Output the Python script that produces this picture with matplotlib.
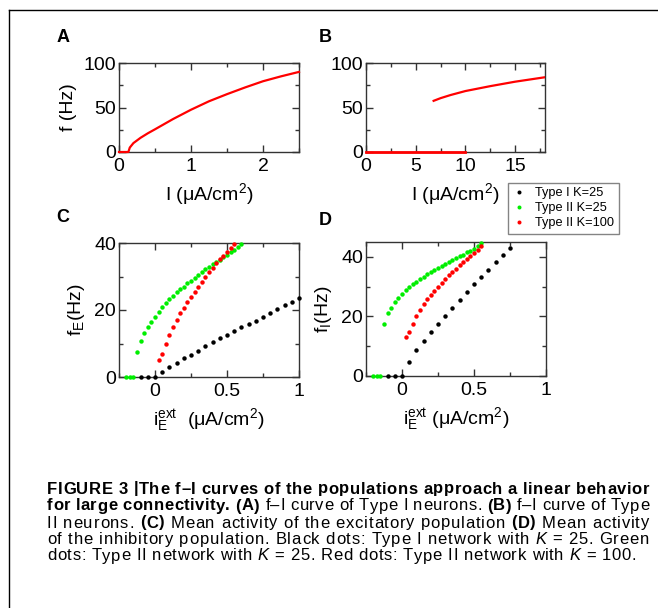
import matplotlib
matplotlib.use("Agg")
import matplotlib.pyplot as plt
from matplotlib.lines import Line2D

# ---------------- data ----------------
# (A) f-I curve, Type I neuron
I_typeI = [0.0, 0.13, 0.15, 0.2, 0.25, 0.3, 0.4, 0.5, 0.75, 1.0, 1.25, 1.5, 1.75, 2.0, 2.25, 2.5]
f_typeI = [0.0, 0.0, 5.0, 10.0, 13.0, 16.0, 21.0, 25.5, 37.0, 47.5, 57.0, 65.0, 72.5, 79.5, 85.0, 90.0]

# (B) f-I curve, Type II neuron (quiescent branch and firing branch)
I_typeII_rest = [0.0, 10.0]
f_typeII_rest = [0.0, 0.0]
I_typeII_fire = [6.8, 7.5, 8.5, 10.0, 12.5, 15.0, 18.0]
f_typeII_fire = [57.5, 60.5, 64.0, 68.5, 74.0, 79.0, 84.0]

# (C) excitatory population rate vs external drive
iE_black = [-0.1, -0.05, 0.0, 0.05, 0.1, 0.15, 0.2, 0.25, 0.3, 0.35, 0.4, 0.45, 0.5,
            0.55, 0.6, 0.65, 0.7, 0.75, 0.8, 0.85, 0.9, 0.95, 1.0]
fE_black = [0.0, 0.0, 0.0, 1.5, 3.0, 4.3, 5.7, 6.7, 7.9, 9.2, 10.3, 11.5, 12.6,
            13.7, 14.8, 15.8, 16.8, 18.0, 19.1, 20.2, 21.4, 22.4, 23.6]

iE_green = [-0.2, -0.175, -0.15, -0.125, -0.1, -0.075, -0.05, -0.025, 0.0, 0.025, 0.05,
            0.075, 0.1, 0.125, 0.15, 0.175, 0.2, 0.225, 0.25, 0.275, 0.3, 0.325, 0.35,
            0.375, 0.4, 0.425, 0.45, 0.475, 0.5, 0.525, 0.55, 0.575, 0.6]
fE_green = [0.0, 0.0, 0.0, 7.5, 10.8, 13.1, 14.8, 16.5, 18.0, 19.5, 20.8,
            22.0, 23.3, 24.3, 25.3, 26.2, 27.0, 28.0, 28.8, 29.6, 30.5, 31.3, 32.1,
            32.8, 33.6, 34.3, 35.0, 35.7, 36.5, 37.2, 37.9, 38.7, 39.6]

iE_red = [0.025, 0.05, 0.075, 0.1, 0.125, 0.15, 0.175, 0.2, 0.225, 0.25, 0.275,
          0.3, 0.325, 0.35, 0.375, 0.4, 0.425, 0.45, 0.475, 0.5, 0.525, 0.55]
fE_red = [5.0, 7.0, 10.0, 12.5, 15.0, 17.0, 19.0, 20.6, 22.3, 24.0, 25.5,
          27.0, 28.5, 30.0, 31.3, 32.6, 33.9, 35.1, 36.1, 37.3, 38.5, 39.8]

# (D) inhibitory population rate vs external drive
iI_black = [-0.1, -0.05, 0.0, 0.05, 0.1, 0.15, 0.2, 0.25, 0.3, 0.35, 0.4, 0.45, 0.5,
            0.55, 0.6, 0.65, 0.7, 0.75]
fI_black = [0.0, 0.0, 0.0, 4.8, 8.7, 11.9, 14.8, 17.6, 20.3, 23.0, 25.6, 28.2, 30.8,
            33.3, 35.7, 38.2, 40.6, 43.1]

iI_green = [-0.2, -0.175, -0.15, -0.125, -0.1, -0.075, -0.05, -0.025, 0.0, 0.025, 0.05,
            0.075, 0.1, 0.125, 0.15, 0.175, 0.2, 0.225, 0.25, 0.275, 0.3, 0.325, 0.35,
            0.375, 0.4, 0.425, 0.45, 0.475, 0.5, 0.525, 0.55]
fI_green = [0.0, 0.0, 0.0, 17.6, 21.0, 22.9, 24.7, 26.2, 27.5, 28.8, 29.8,
            30.8, 31.7, 32.6, 33.4, 34.2, 34.9, 35.6, 36.3, 37.0, 37.6, 38.3, 39.0,
            39.6, 40.2, 40.8, 41.5, 42.1, 42.8, 43.6, 44.5]

iI_red = [0.025, 0.05, 0.075, 0.1, 0.125, 0.15, 0.175, 0.2, 0.225, 0.25, 0.275,
          0.3, 0.325, 0.35, 0.375, 0.4, 0.425, 0.45, 0.475, 0.5, 0.525, 0.55]
fI_red = [13.0, 14.7, 17.6, 20.2, 22.3, 24.1, 25.7, 27.2, 28.6, 30.0, 31.3,
          32.6, 33.8, 35.0, 36.1, 37.2, 38.2, 39.2, 40.2, 41.2, 42.2, 43.6]

legend_labels = ["Type I K=25", "Type II K=25", "Type II K=100"]

# ---------------- style ----------------
plt.rcParams["font.family"] = ["Liberation Sans", "DejaVu Sans"]
plt.rcParams["mathtext.fontset"] = "custom"
plt.rcParams["mathtext.rm"] = "Liberation Sans"
plt.rcParams["mathtext.it"] = "Liberation Sans:italic"
plt.rcParams["mathtext.bf"] = "Liberation Sans:bold"

W, H = 658, 608
fig = plt.figure(figsize=(W / 100, H / 100), dpi=100)
fig.patch.set_facecolor("white")

TICK_FS = 14
LABEL_FS = 14
RED, GREEN, BLACK = "#ff0000", "#00ee00", "#000000"


def px_axes(left, top, right, bottom):
    return fig.add_axes([left / W, 1 - bottom / H, (right - left) / W, (bottom - top) / H])


def style_axes(ax, xmaj, xmin, ymaj, ymin):
    ax.set_xticks(xmaj)
    ax.set_xticks(xmin, minor=True)
    ax.set_yticks(ymaj)
    ax.set_yticks(ymin, minor=True)
    ax.tick_params(which="both", direction="in", top=True, right=True,
                   colors="#333333", labelcolor="black", labelsize=TICK_FS, width=1.0)
    ax.tick_params(which="major", length=5)
    ax.tick_params(which="minor", length=3)
    ax.tick_params(axis="x", which="major", pad=4.5)
    ax.tick_params(axis="y", which="major", pad=2)
    ax.set_xticklabels(["%g" % v for v in xmaj])
    ax.set_yticklabels(["%g" % v for v in ymaj])
    for s in ax.spines.values():
        s.set_color("#333333")
        s.set_linewidth(1.0)


# ---- A ----
axA = px_axes(119, 63, 299, 152)
axA.plot(I_typeI, f_typeI, color=RED, lw=1.6, clip_on=False, zorder=5)
axA.set_xlim(0, 2.5)
axA.set_ylim(0, 100)
style_axes(axA, [0, 1, 2], [0.5, 1.5, 2.5], [0, 50, 100], [25, 75])
axA.set_ylabel("f (Hz)", fontsize=LABEL_FS, labelpad=5)
axA.set_xlabel("I (\u03bcA/cm$^2$)", fontsize=LABEL_FS, labelpad=4)

# ---- B ----
axB = px_axes(366, 63, 545, 152)
axB.plot(I_typeII_rest, f_typeII_rest, color=RED, lw=2.0, clip_on=False, zorder=5)
axB.plot(I_typeII_fire, f_typeII_fire, color=RED, lw=1.6, zorder=5)
axB.set_xlim(0, 18)
axB.set_ylim(0, 100)
style_axes(axB, [0, 5, 10, 15], [2.5, 7.5, 12.5, 17.5], [0, 50, 100], [25, 75])
axB.set_xlabel("I (\u03bcA/cm$^2$)", fontsize=LABEL_FS, labelpad=4)

MS = 3.2
# ---- C ----
axC = px_axes(119, 243, 299, 377)
hC = []
for x, y, c in [(iE_black, fE_black, BLACK), (iE_green, fE_green, GREEN), (iE_red, fE_red, RED)]:
    h, = axC.plot(x, y, "o", color=c, ms=MS, mew=0, clip_on=False, zorder=5)
    hC.append(h)
axC.set_xlim(-0.25, 1)
axC.set_ylim(0, 40)
style_axes(axC, [0, 0.5, 1], [-0.25, 0.25, 0.75], [0, 20, 40], [10, 30])
axC.set_ylabel("f$_\\mathregular{E}$(Hz)", fontsize=LABEL_FS, labelpad=5)
axC.set_xlabel("i$_\\mathregular{E}^\\mathregular{ext}$  (\u03bcA/cm$^2$)",
               fontsize=LABEL_FS, labelpad=4)

# ---- D ----
axD = px_axes(366, 242, 546, 376)
for x, y, c in [(iI_black, fI_black, BLACK), (iI_green, fI_green, GREEN), (iI_red, fI_red, RED)]:
    axD.plot(x, y, "o", color=c, ms=MS, mew=0, clip_on=False, zorder=5)
axD.set_xlim(-0.25, 1)
axD.set_ylim(0, 45)
style_axes(axD, [0, 0.5, 1], [-0.25, 0.25, 0.75], [0, 20, 40], [10, 30])
axD.set_ylabel("f$_\\mathregular{I}$(Hz)", fontsize=LABEL_FS, labelpad=5)
axD.set_xlabel("i$_\\mathregular{E}^\\mathregular{ext}$ (\u03bcA/cm$^2$)",
               fontsize=LABEL_FS, labelpad=4)

# panel letters
for letter, x, y in [("A", 63, 38), ("B", 325, 38), ("C", 63, 218), ("D", 325, 220)]:
    fig.text(x / W, 1 - y / H, letter, fontsize=13, fontweight="bold",
             ha="center", va="center")

# legend
leg = fig.legend(hC, legend_labels, loc="upper left",
                 bbox_to_anchor=(508 / W, 1 - 183 / H), borderaxespad=0,
                 fontsize=9.2, frameon=True, fancybox=False, handlelength=1.0,
                 handletextpad=0.8, borderpad=0.35, labelspacing=0.22, markerscale=0.9)
leg.get_frame().set_edgecolor("#666666")
leg.get_frame().set_linewidth(1.0)

# outer frame (left and top edges)
fig.add_artist(Line2D([8.5 / W, 8.5 / W], [0, 1 - 9.5 / H], color="black", lw=1.0,
                      transform=fig.transFigure))
fig.add_artist(Line2D([8.5 / W, 1], [1 - 9.5 / H, 1 - 9.5 / H], color="black", lw=1.0,
                      transform=fig.transFigure))

# ---------------- caption (justified, letter-spaced) ----------------
CAP_FAMILY = ["Liberation Sans", "DejaVu Sans"]
CAP_FS = 12.0
B_, N_, I_ = "bold", "normal", "italic"
caption_lines = [
    [("FIGURE 3 |The f\u2013I curves of the populations approach a linear behavior", B_)],
    [("for large connectivity. (A)", B_), (" f\u2013I curve of Type I neurons. ", N_),
     ("(B)", B_), (" f\u2013I curve of Type", N_)],
    [("II neurons. ", N_), ("(C)", B_), (" Mean activity of the excitatory population ", N_),
     ("(D)", B_), (" Mean activity", N_)],
    [("of the inhibitory population. Black dots: Type I network with ", N_), ("K", I_),
     (" = 25. Green", N_)],
    [("dots: Type II network with ", N_), ("K", I_), (" = 25. Red dots: Type II network with ", N_),
     ("K", I_), (" = 100.", N_)],
]
line_y = [489, 506, 523, 539.5, 556]
x0 = 47.0
line_end = [649.0, 649.0, 649.0, 649.0, 636.0]

renderer = fig.canvas.get_renderer()


def text_kw(kind):
    kw = dict(fontsize=CAP_FS, family=CAP_FAMILY, va="center", ha="left")
    if kind == B_:
        kw["fontweight"] = "bold"
    elif kind == I_:
        kw["fontstyle"] = "italic"
    return kw


_adv = {}


def advance(ch, kind):
    key = (ch, kind)
    if key not in _adv:
        ta = fig.text(0, -1, "n" + ch + "n", **text_kw(kind))
        tb = fig.text(0, -1, "nn", **text_kw(kind))
        _adv[key] = (ta.get_window_extent(renderer).width
                     - tb.get_window_extent(renderer).width)
        ta.remove()
        tb.remove()
    return _adv[key]


for runs, y, xe in zip(caption_lines, line_y, line_end):
    chars = [(ch, kind) for s, kind in runs for ch in s]
    advs = [advance(ch, kind) for ch, kind in chars]
    extra = (xe - x0 - sum(advs)) / (len(chars) - 1)
    x = x0
    for (ch, kind), a in zip(chars, advs):
        if ch != " ":
            fig.text(x / W, 1 - y / H, ch, **text_kw(kind))
        x += a + extra

fig.savefig("out.png", dpi=100, facecolor="white")
